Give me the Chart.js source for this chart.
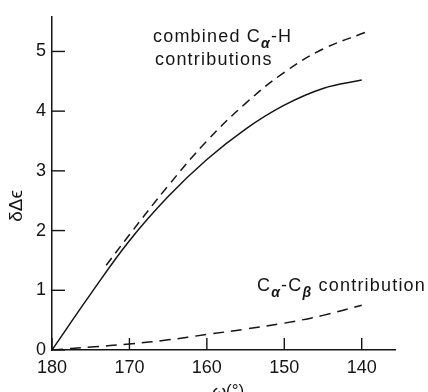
<!DOCTYPE html>
<html>
<head>
<meta charset="utf-8">
<script src="https://cdn.jsdelivr.net/npm/chart.js@4/dist/chart.umd.min.js"></script>
<style>
  html, body { margin: 0; padding: 0; background: #fff; }
  #wrap { width: 428px; height: 392px; }
</style>
</head>
<body>
<div id="wrap"><canvas id="chart" width="428" height="392"></canvas></div>
<script>
// omega in degrees, delta-delta-epsilon values
const omegaSolid = [180, 175, 170, 165, 160, 155, 150, 145, 140];
const solidVals  = [0, 0.94, 1.83, 2.57, 3.19, 3.70, 4.10, 4.38, 4.52];

const omegaUpper = [173, 170, 165, 160, 155, 150, 145, 139.5];
const upperVals  = [1.42, 1.93, 2.75, 3.50, 4.13, 4.65, 5.04, 5.32];

const omegaLower = [180, 175, 170, 165, 160, 155, 150, 145, 140];
const lowerVals  = [0, 0.05, 0.10, 0.17, 0.26, 0.35, 0.45, 0.58, 0.75];

const xTicks = [180, 170, 160, 150, 140];
const yTicks = [0, 1, 2, 3, 4, 5];

const INK = '#151515';
const FONT = "'Liberation Sans', 'DejaVu Sans', sans-serif";

function toPoints(xs, ys) {
    return xs.map((x, i) => ({ x: x, y: ys[i] }));
}

// draws text with a lowered, smaller subscript part
function drawParts(ctx, x, y, parts) {
    parts.forEach(p => {
        if (p.sub) {
            ctx.font = 'bold italic 14px ' + FONT;
            ctx.fillText(p.t, x, y + 6);
        } else {
            ctx.font = '18px ' + FONT;
            ctx.fillText(p.t, x, y);
        }
        x += ctx.measureText(p.t).width;
    });
}

const innerTicks = {
    id: 'innerTicks',
    afterDraw(chart) {
        const ctx = chart.ctx;
        const xs = chart.scales.x, ys = chart.scales.y;
        const area = chart.chartArea;
        ctx.save();
        ctx.strokeStyle = INK;
        ctx.lineWidth = 1.4;
        xTicks.forEach(v => {
            const px = xs.getPixelForValue(v);
            ctx.beginPath();
            ctx.moveTo(px, area.bottom);
            ctx.lineTo(px, area.bottom - 12);
            ctx.stroke();
        });
        yTicks.forEach(v => {
            const py = ys.getPixelForValue(v);
            ctx.beginPath();
            ctx.moveTo(area.left, py);
            ctx.lineTo(area.left + 13, py);
            ctx.stroke();
        });

        // annotations
        ctx.fillStyle = INK;
        ctx.textBaseline = 'alphabetic';
        ctx.textAlign = 'left';
        ctx.letterSpacing = '1.2px';
        drawParts(ctx, 153, 42, [{ t: 'combined C' }, { t: 'α', sub: true }, { t: '-H' }]);
        drawParts(ctx, 155, 65, [{ t: 'contributions' }]);
        drawParts(ctx, 257, 291, [{ t: 'C' }, { t: 'α', sub: true }, { t: '-C' }, { t: 'β', sub: true }, { t: ' contribution' }]);
        ctx.letterSpacing = '0px';

        // axis titles
        ctx.font = 'italic 18px ' + FONT;
        ctx.fillText('ω', 212, 398);
        ctx.font = '17px ' + FONT;
        ctx.fillText('(°)', 226, 396);

        ctx.translate(22, 206);
        ctx.rotate(-Math.PI / 2);
        ctx.textAlign = 'center';
        ctx.font = '19px ' + FONT;
        ctx.fillText('δΔϵ', 0, 0);
        ctx.restore();
    }
};

new Chart(document.getElementById('chart'), {
    type: 'line',
    data: {
        datasets: [
            {
                label: 'solid',
                data: toPoints(omegaSolid, solidVals),
                borderColor: INK,
                borderWidth: 1.5,
                pointRadius: 0,
                tension: 0.4,
                fill: false
            },
            {
                label: 'combined Ca-H contributions',
                data: toPoints(omegaUpper, upperVals),
                borderColor: INK,
                borderWidth: 1.5,
                borderDash: [9, 6],
                pointRadius: 0,
                tension: 0.4,
                fill: false
            },
            {
                label: 'Ca-Cb contribution',
                data: toPoints(omegaLower, lowerVals),
                borderColor: INK,
                borderWidth: 1.5,
                borderDash: [11, 7],
                pointRadius: 0,
                tension: 0.4,
                fill: false
            }
        ]
    },
    options: {
        responsive: false,
        animation: false,
        layout: { padding: { top: 13, right: 33, left: 0, bottom: 0 } },
        plugins: { legend: { display: false }, tooltip: { enabled: false } },
        scales: {
            x: {
                type: 'linear',
                reverse: true,
                min: 135.7,
                max: 180,
                afterBuildTicks: axis => { axis.ticks = xTicks.map(v => ({ value: v })); },
                afterFit: scale => { scale.height = 42; },
                grid: { display: false, drawTicks: false },
                border: { display: true, color: INK, width: 1.5 },
                ticks: { color: INK, padding: 7, maxRotation: 0, font: { size: 18, family: FONT } }
            },
            y: {
                min: 0,
                max: 5.58,
                afterBuildTicks: axis => { axis.ticks = yTicks.map(v => ({ value: v })); },
                afterFit: scale => { scale.width = 52; },
                grid: { display: false, drawTicks: false },
                border: { display: true, color: INK, width: 1.5 },
                ticks: { color: INK, padding: 6, font: { size: 18, family: FONT } }
            }
        }
    },
    plugins: [innerTicks]
});
</script>
</body>
</html>
